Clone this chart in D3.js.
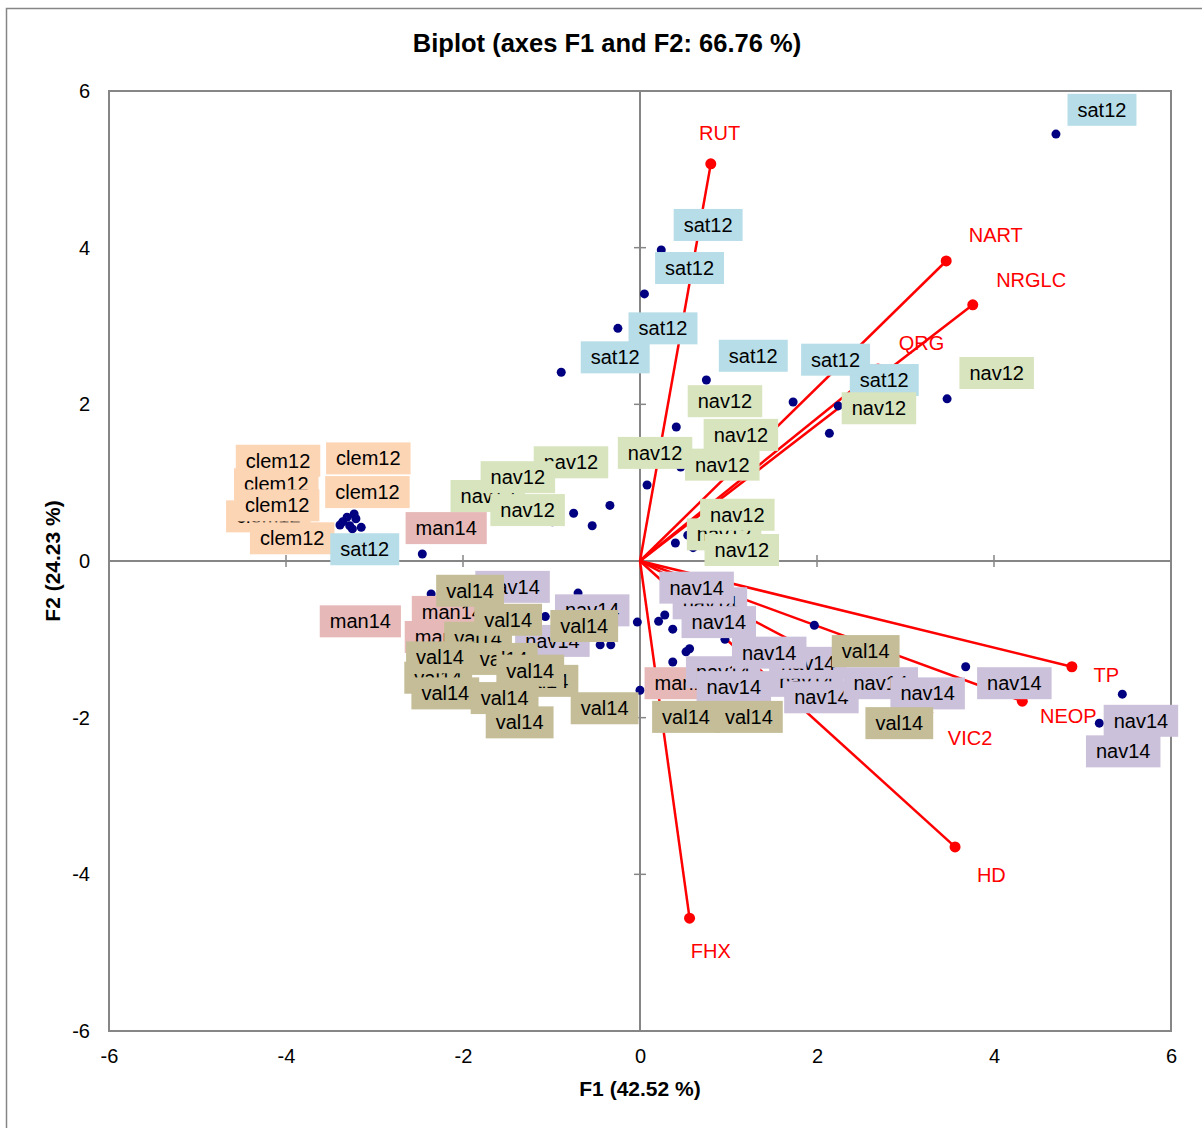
<!DOCTYPE html>
<html>
<head>
<meta charset="utf-8">
<script src="https://cdnjs.cloudflare.com/ajax/libs/d3/7.8.5/d3.min.js"></script>
<style>
    body { margin: 0; background: #fff; }
    svg text { font-family: "Liberation Sans", Arial, sans-serif; }
</style>
</head>
<body>
<div id="chart"></div>
<script>
// biplot of observations (F1, F2) and variable vectors

// tick values for both axes
var xTicks = [-6, -4, -2, 0, 2, 4, 6];
var yTicks = [-6, -4, -2, 0, 2, 4, 6];

// variables: name, F1, F2, label F1, label F2
var varNames  = ["RUT", "NART", "NRGLC", "QRG", "TP", "NEOP", "VIC2", "HD", "FHX"];
var varF1     = [0.80, 3.46, 3.76, 2.69, 4.88, 4.32, 3.25, 3.56, 0.56];
var varF2     = [5.07, 3.83, 3.27, 2.45, -1.35, -1.79, -1.93, -3.65, -4.56];
var varLabF1  = [0.90, 4.02, 4.42, 3.18, 5.27, 4.84, 3.73, 3.97, 0.80];
var varLabF2  = [5.46, 4.16, 3.59, 2.78, -1.46, -1.98, -2.26, -4.01, -4.98];

// observations per group: [F1, F2, label F1, label F2] (array order = drawing order)
var clem12 = [
    [-3.39, 0.46, -4.11, 0.98],
    [-3.36, 0.50, -4.20, 0.57],
    [-3.23, 0.60, -4.09, 1.28],
    [-3.31, 0.56, -4.10, 0.71],
    [-3.15, 0.43, -3.93, 0.29],
    [-3.21, 0.54, -3.07, 1.31],
    [-3.28, 0.45, -3.08, 0.88]
];
var sat12 = [
    [4.70, 5.45, 5.22, 5.76],
    [0.24, 3.97, 0.77, 4.29],
    [0.05, 3.41, 0.56, 3.74],
    [-0.25, 2.97, 0.26, 2.97],
    [-0.89, 2.41, -0.28, 2.60],
    [0.75, 2.31, 1.28, 2.62],
    [2.24, 1.98, 2.76, 2.31],
    [1.73, 2.03, 2.21, 2.57],
    [-3.25, 0.41, -3.11, 0.15]
];
var nav12 = [
    [-1.58, 0.71, -1.72, 0.83],
    [0.54, 0.33, 0.95, 0.34],
    [-0.75, 0.61, -0.78, 1.26],
    [-0.99, 0.50, -1.38, 1.07],
    [-0.54, 0.45, -1.27, 0.65],
    [-0.34, 0.71, 0.17, 1.38],
    [0.08, 0.97, 0.93, 1.23],
    [0.46, 1.20, 1.14, 1.61],
    [0.41, 1.71, 0.96, 2.04],
    [2.14, 1.63, 2.70, 1.95],
    [3.47, 2.07, 4.03, 2.40],
    [0.40, 0.23, 1.10, 0.59],
    [0.60, 0.17, 1.15, 0.14]
];
var man14 = [
    [-2.46, 0.09, -2.19, 0.42],
    [-2.36, -0.42, -3.16, -0.77],
    [-2.43, -0.65, -2.12, -0.65],
    [-2.37, -1.01, -2.20, -0.97],
    [0.00, -1.65, 0.51, -1.56]
];
var nav14 = [
    [0.28, -0.69, 0.79, -0.54],
    [0.21, -0.77, 0.64, -0.34],
    [0.37, -0.87, 0.89, -0.78],
    [0.56, -1.12, 1.88, -1.53],
    [1.97, -0.82, 1.90, -1.30],
    [0.37, -1.29, 0.94, -1.42],
    [0.52, -1.16, 1.06, -1.61],
    [0.96, -1.00, 1.46, -1.17],
    [2.03, -1.77, 2.05, -1.74],
    [2.37, -1.62, 2.72, -1.56],
    [2.94, -1.71, 3.25, -1.69],
    [3.68, -1.35, 4.23, -1.56],
    [5.19, -2.07, 5.66, -2.04],
    [5.45, -1.70, 5.46, -2.43],
    [-1.95, -0.65, -1.44, -0.33],
    [-1.07, -0.71, -0.54, -0.63],
    [-1.53, -1.33, -0.99, -1.02]
];
var val14 = [
    [-2.37, -1.52, -2.28, -1.49],
    [-0.33, -1.07, -1.83, -0.98],
    [-1.07, -1.52, -1.08, -1.53],
    [-2.49, -1.33, -2.26, -1.23],
    [-1.69, -1.33, -1.54, -1.25],
    [-1.36, -1.42, -1.24, -1.40],
    [-2.20, -0.69, -1.92, -0.38],
    [-0.70, -0.41, -1.49, -0.75],
    [-0.03, -0.78, -0.63, -0.83],
    [-2.26, -1.77, -2.20, -1.69],
    [-1.58, -1.77, -1.53, -1.75],
    [-1.36, -2.09, -1.36, -2.06],
    [-0.45, -1.07, -0.40, -1.88],
    [2.37, -1.20, 2.55, -1.15],
    [0.34, -1.97, 0.52, -1.99],
    [1.13, -2.03, 1.23, -1.99],
    [2.71, -2.09, 2.93, -2.07]
];

var groups = [
    {name: "clem12", rows: clem12, color: "#fcd5b5"},
    {name: "sat12",  rows: sat12,  color: "#b7dde8"},
    {name: "nav12",  rows: nav12,  color: "#d7e4bd"},
    {name: "man14",  rows: man14,  color: "#e6b9b8"},
    {name: "nav14",  rows: nav14,  color: "#ccc1da"},
    {name: "val14",  rows: val14,  color: "#c4bd97"}
];

var width = 1202, height = 1128;
var plot = {left: 109, right: 1171, top: 91, bottom: 1031};
var axisGrey = "#868686";

var svg = d3.select("#chart")
    .append("svg")
    .attr("width", width)
    .attr("height", height);

// outer chart border
svg.append("rect")
    .attr("x", 6.5).attr("y", 8.5)
    .attr("width", 1210).attr("height", 1140)
    .attr("fill", "none")
    .attr("stroke", axisGrey)
    .attr("stroke-width", 1.5);

var x = d3.scaleLinear().domain([-6, 6]).range([plot.left, plot.right]);
var y = d3.scaleLinear().domain([-6, 6]).range([plot.bottom, plot.top]);

// title
svg.append("text")
    .attr("x", 607).attr("y", 52)
    .attr("text-anchor", "middle")
    .style("font-size", "25.5px")
    .style("font-weight", "bold")
    .text("Biplot (axes F1 and F2: 66.76 %)");

// tick labels
var xAxis = svg.append("g")
    .attr("transform", "translate(0," + plot.bottom + ")")
    .call(d3.axisBottom(x).tickValues(xTicks).tickSize(0).tickPadding(18).tickFormat(d3.format("d")));
var yAxis = svg.append("g")
    .attr("transform", "translate(" + plot.left + ",0)")
    .call(d3.axisLeft(y).tickValues(yTicks).tickSize(0).tickPadding(19).tickFormat(d3.format("d")));
[xAxis, yAxis].forEach(function(a) {
    a.select(".domain").remove();
    a.selectAll("text")
        .style("font-size", "20px")
        .style("font-family", "'Liberation Sans', Arial, sans-serif")
        .attr("fill", "#000")
        .text(function(d) { return d < 0 ? "-" + Math.abs(d) : d; });
});

// axis titles
svg.append("text")
    .attr("x", (plot.left + plot.right) / 2).attr("y", 1096)
    .attr("text-anchor", "middle")
    .style("font-size", "21px").style("font-weight", "bold")
    .text("F1 (42.52 %)");
svg.append("text")
    .attr("transform", "translate(60," + y(0) + ") rotate(-90)")
    .attr("text-anchor", "middle")
    .style("font-size", "21px").style("font-weight", "bold")
    .text("F2 (24.23 %)");

// plot frame
svg.append("rect")
    .attr("x", plot.left).attr("y", plot.top)
    .attr("width", plot.right - plot.left)
    .attr("height", plot.bottom - plot.top)
    .attr("fill", "none")
    .attr("stroke", axisGrey)
    .attr("stroke-width", 2);

// zero lines with cross ticks
svg.append("line")
    .attr("x1", plot.left).attr("x2", plot.right)
    .attr("y1", y(0)).attr("y2", y(0))
    .attr("stroke", axisGrey).attr("stroke-width", 2);
svg.append("line")
    .attr("x1", x(0)).attr("x2", x(0))
    .attr("y1", plot.top).attr("y2", plot.bottom)
    .attr("stroke", axisGrey).attr("stroke-width", 2);
svg.selectAll(".xtick")
    .data(xTicks.filter(function(d) { return d !== 0 && Math.abs(d) < 6; }))
    .enter().append("line")
    .attr("class", "xtick")
    .attr("x1", function(d) { return x(d); }).attr("x2", function(d) { return x(d); })
    .attr("y1", y(0) - 6).attr("y2", y(0) + 6)
    .attr("stroke", axisGrey).attr("stroke-width", 1.5);
svg.selectAll(".ytick")
    .data(yTicks.filter(function(d) { return d !== 0 && Math.abs(d) < 6; }))
    .enter().append("line")
    .attr("class", "ytick")
    .attr("y1", function(d) { return y(d); }).attr("y2", function(d) { return y(d); })
    .attr("x1", x(0) - 6).attr("x2", x(0) + 6)
    .attr("stroke", axisGrey).attr("stroke-width", 1.5);

// variable vectors
var vars = varNames.map(function(n, i) {
    return {name: n, f1: varF1[i], f2: varF2[i], lf1: varLabF1[i], lf2: varLabF2[i]};
});
svg.selectAll(".vec")
    .data(vars).enter().append("line")
    .attr("class", "vec")
    .attr("x1", x(0)).attr("y1", y(0))
    .attr("x2", function(d) { return x(d.f1); })
    .attr("y2", function(d) { return y(d.f2); })
    .attr("stroke", "#ff0000").attr("stroke-width", 2.5);
svg.selectAll(".vecEnd")
    .data(vars).enter().append("circle")
    .attr("class", "vecEnd")
    .attr("cx", function(d) { return x(d.f1); })
    .attr("cy", function(d) { return y(d.f2); })
    .attr("r", 5.5)
    .attr("fill", "#ff0000");

// observation points
var obs = [];
groups.forEach(function(g) {
    g.rows.forEach(function(r) {
        obs.push({group: g.name, color: g.color, f1: r[0], f2: r[1], lf1: r[2], lf2: r[3]});
    });
});
svg.selectAll(".obs")
    .data(obs).enter().append("circle")
    .attr("class", "obs")
    .attr("cx", function(d) { return x(d.f1); })
    .attr("cy", function(d) { return y(d.f2); })
    .attr("r", 4.5)
    .attr("fill", "#000080");

// variable labels
svg.selectAll(".vecLab")
    .data(vars).enter().append("text")
    .attr("class", "vecLab")
    .attr("x", function(d) { return x(d.lf1); })
    .attr("y", function(d) { return y(d.lf2); })
    .attr("dy", "0.35em")
    .attr("text-anchor", "middle")
    .attr("fill", "#ff0000")
    .style("font-size", "20px")
    .text(function(d) { return d.name; });

// observation labels with coloured boxes
var lab = svg.selectAll(".obsLab")
    .data(obs).enter().append("g")
    .attr("class", "obsLab")
    .attr("transform", function(d) { return "translate(" + x(d.lf1) + "," + y(d.lf2) + ")"; });
lab.append("rect")
    .attr("fill", function(d) { return d.color; });
lab.append("text")
    .attr("text-anchor", "middle")
    .attr("dy", "0.35em")
    .attr("fill", "#000")
    .style("font-size", "20px")
    .text(function(d) { return d.group; });
lab.each(function() {
    var g = d3.select(this);
    var w = g.select("text").node().getComputedTextLength() + 20;
    g.select("rect")
        .attr("x", -w / 2).attr("y", -16)
        .attr("width", w).attr("height", 32);
});
</script>
</body>
</html>
